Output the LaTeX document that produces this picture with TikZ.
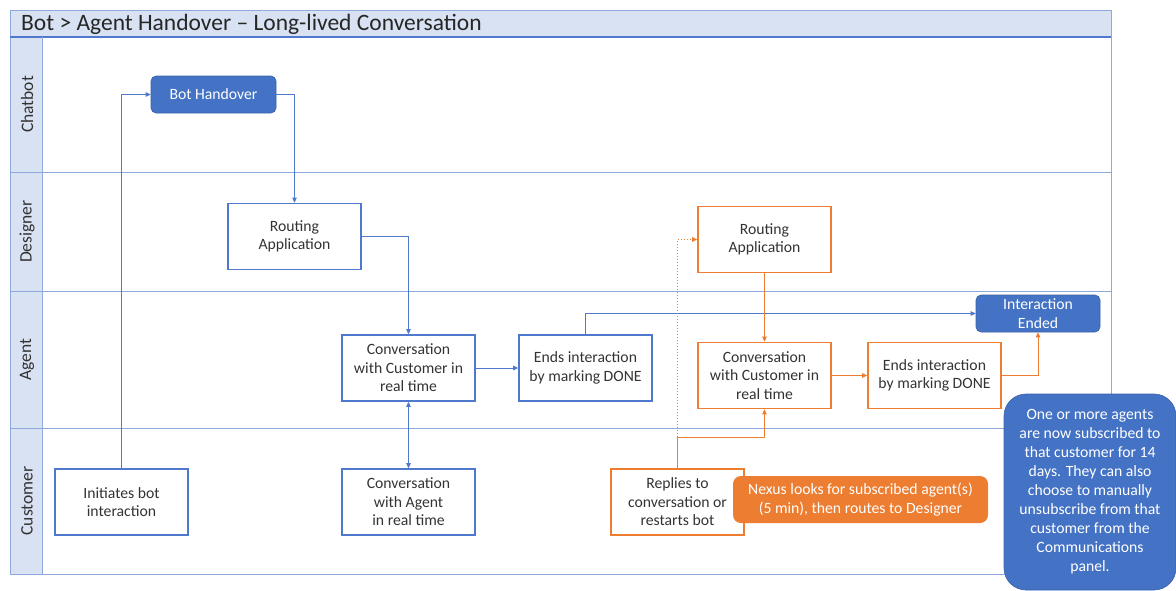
\documentclass[tikz,border=0pt]{standalone}
\usepackage{fontspec}
\setmainfont{Carlito}
\usetikzlibrary{arrows.meta}
\definecolor{bfill}{HTML}{4472C4}
\definecolor{bline}{HTML}{4F79CC}
\definecolor{laneline}{HTML}{8EA9DB}
\definecolor{lanefill}{HTML}{D9E2F3}
\definecolor{orng}{HTML}{ED7D31}
\definecolor{txt}{HTML}{333333}
\tikzset{
  boxtext/.style={font=\fontsize{15.7}{18.5}\selectfont, text=txt, align=center},
  bbox/.style={boxtext, draw=bline, line width=1.6pt, minimum width=133pt, minimum height=66pt, inner sep=1pt},
  obox/.style={boxtext, draw=orng, line width=1.6pt, minimum width=133pt, minimum height=66pt, inner sep=1pt},
  bfilled/.style={font=\fontsize{15.7}{19}\selectfont, text=white, align=center, fill=bfill, draw=bfill!85!black, line width=0.6pt, rounded corners=5pt, inner sep=1pt},
  ofilled/.style={font=\fontsize{15.7}{19}\selectfont, text=white, align=center, fill=orng, rounded corners=8pt, inner sep=1pt},
  bl/.style={draw=bline, line width=0.8pt, -{Triangle[length=5pt,width=4.5pt]}},
  orl/.style={draw=orng, line width=0.8pt, -{Triangle[length=5pt,width=4.5pt]}},
  lanelabel/.style={rotate=90, font=\fontsize{17.5}{20}\selectfont, text=txt}
}
\begin{document}
\begin{tikzpicture}[x=1pt,y=-1pt]
\useasboundingbox (0,0) rectangle (1176,590);
% frame and lanes
\fill[lanefill] (10,10) rectangle (1111,37);
\fill[lanefill] (10,37) rectangle (42,574);
\draw[laneline, line width=1pt] (10,10) rectangle (1111,574);
\draw[bline, line width=1.2pt] (10,37) -- (1111,37);
\draw[laneline, line width=1pt] (42,37) -- (42,574);
\draw[laneline, line width=1pt] (10,172) -- (1111,172);
\draw[laneline, line width=1pt] (10,291) -- (1111,291);
\draw[laneline, line width=1pt] (10,428) -- (1111,428);
\node[anchor=west, font=\fontsize{23.5}{26}\selectfont, text=black!85, inner sep=0pt] (title) at (21,24) {Bot > Agent Handover -- Long-lived Conversation};
\node[lanelabel] (lchat) at (27,104.5) {Chatbot};
\node[lanelabel] (ldes) at (27,231.5) {Designer};
\node[lanelabel] (lagent) at (27,359.5) {Agent};
\node[lanelabel] (lcust) at (27,501) {Customer};
% nodes
\node[bfilled, minimum width=125pt, minimum height=37pt] (bot) at (213.5,94.5) {Bot Handover};
\node[bbox] (rout) at (294.5,236.5) {Routing\\Application};
\node[bbox] (conv) at (408.5,368) {Conversation\\with Customer in\\real time};
\node[bbox] (ends) at (585.5,368) {Ends interaction\\by marking DONE};
\node[bbox] (ini) at (121.5,502) {Initiates bot\\interaction};
\node[bbox] (convag) at (408.5,502) {Conversation\\with Agent\\in real time};
\node[bfilled, minimum width=124pt, minimum height=37pt, inner sep=0pt] (iend) at (1038,313.5) {Interaction\\Ended};
\node[obox] (orout) at (764.5,239.5) {Routing\\Application};
\node[obox] (oconv) at (764.5,375.5) {Conversation\\with Customer in\\real time};
\node[obox] (oends) at (934.5,375.5) {Ends interaction\\by marking DONE};
\node[obox] (repl) at (677.5,502) {Replies to\\conversation or\\restarts bot};
\node[ofilled, minimum width=255pt, minimum height=47pt] (nexus) at (860.5,499.5) {Nexus looks for subscribed agent(s)\\(5 min), then routes to Designer};
\node[bfilled, rounded corners=22pt, minimum width=172pt, minimum height=196pt, font=\fontsize{15.7}{19}\selectfont] (note) at (1090,492) {One or more agents\\are now subscribed to\\that customer for 14\\days. They can also\\choose to manually\\unsubscribe from that\\customer from the\\Communications\\panel.};
% connectors
\draw[bl] (ini.north) |- (bot.west);
\draw[bl] (bot.east) -| (rout.north);
\draw[bl] (rout.east) -| (conv.north);
\draw[draw=bline, line width=0.8pt, {Triangle[length=5pt,width=4.5pt]}-{Triangle[length=5pt,width=4.5pt]}] (conv.south) -- (convag.north);
\draw[bl] (conv.east) -- (ends.west);
\draw[bl] (ends.north) |- (iend.west);
\draw[orl] (orout.south) -- (oconv.north);
\draw[orl] (oconv.east) -- (oends.west);
\draw[orl] (oends.east) -| (iend.south);
\coordinate (j) at (677.5,437);
\draw[orl] (repl.north) -- (j) -| (oconv.south);
\draw[orl, line width=1pt, dotted] (j) |- (orout.west);
\end{tikzpicture}
\end{document}
